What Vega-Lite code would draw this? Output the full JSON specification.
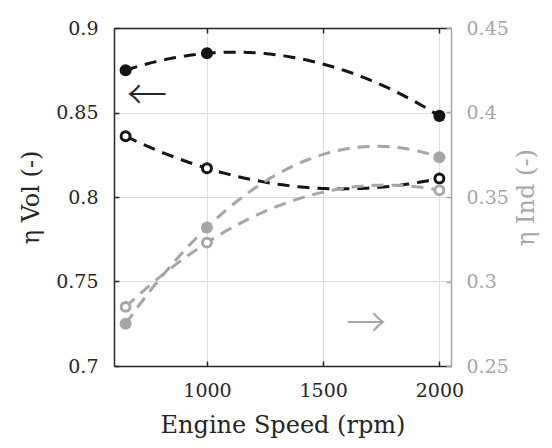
{
  "$schema": "https://vega.github.io/schema/vega-lite/v6.json",
  "width": 337,
  "height": 338,
  "autosize": {"type": "none"},
  "padding": {"left": 114, "top": 28, "right": 101, "bottom": 82},
  "background": "white",
  "config": {
    "font": "DejaVu Serif",
    "view": {"stroke": null},
    "axis": {
      "labelFont": "DejaVu Serif",
      "titleFont": "DejaVu Serif",
      "labelFontSize": 19,
      "titleFontSize": 24,
      "titleFontWeight": "normal",
      "gridColor": "#dddddd",
      "gridWidth": 1,
      "domainWidth": 1.5,
      "tickWidth": 1.5
    }
  },
  "datasets": {
    "vol": [
      {"rpm": 650, "eta": 0.875, "marker": "filled"},
      {"rpm": 1000, "eta": 0.885, "marker": "filled"},
      {"rpm": 2000, "eta": 0.848, "marker": "filled"},
      {"rpm": 650, "eta": 0.836, "marker": "open"},
      {"rpm": 1000, "eta": 0.817, "marker": "open"},
      {"rpm": 2000, "eta": 0.811, "marker": "open"}
    ],
    "ind": [
      {"rpm": 650, "eta": 0.275, "marker": "filled"},
      {"rpm": 1000, "eta": 0.332, "marker": "filled"},
      {"rpm": 2000, "eta": 0.3735, "marker": "filled"},
      {"rpm": 650, "eta": 0.285, "marker": "open"},
      {"rpm": 1000, "eta": 0.323, "marker": "open"},
      {"rpm": 2000, "eta": 0.354, "marker": "open"}
    ]
  },
  "layer": [
    {
      "data": {"name": "vol"},
      "encoding": {
        "x": {
          "field": "rpm", "type": "quantitative",
          "scale": {"domain": [600, 2050], "nice": false, "zero": false},
          "axis": {
            "orient": "bottom", "values": [1000, 1500, 2000], "format": "d",
            "title": "Engine Speed (rpm)", "grid": true,
            "domainColor": "#262626", "tickColor": "#262626", "labelColor": "#262626", "titleColor": "#262626",
            "tickSize": -5, "labelPadding": 20, "titlePadding": 13
          }
        },
        "y": {
          "field": "eta", "type": "quantitative",
          "scale": {"domain": [0.7, 0.9], "nice": false, "zero": false},
          "axis": {
            "orient": "left", "values": [0.7, 0.75, 0.8, 0.85, 0.9], "format": ".2~f",
            "title": "η Vol (-)", "grid": true,
            "domainColor": "#262626", "tickColor": "#262626", "labelColor": "#262626", "titleColor": "#262626",
            "tickSize": -5, "labelPadding": 21, "titlePadding": 12
          }
        }
      },
      "layer": [
        {
          "transform": [{"regression": "eta", "on": "rpm", "groupby": ["marker"], "method": "poly", "order": 2, "extent": [650, 2000]}],
          "mark": {"type": "line", "color": "#141414", "strokeWidth": 3, "strokeDash": [12, 8]},
          "encoding": {"detail": {"field": "marker"}}
        },
        {
          "transform": [{"filter": "datum.marker == 'filled'"}],
          "mark": {"type": "circle", "color": "#141414", "opacity": 1, "size": 145}
        },
        {
          "transform": [{"filter": "datum.marker == 'open'"}],
          "mark": {"type": "circle", "fill": "white", "stroke": "#141414", "strokeWidth": 3, "opacity": 1, "size": 80}
        },
        {
          "data": {"values": [{"rpm": 742, "eta": 0.859, "label": "←"}]},
          "mark": {"type": "text", "fontSize": 40, "color": "#262626", "font": "Noto Sans CJK JP", "fontWeight": 300},
          "encoding": {"text": {"field": "label"}}
        }
      ]
    },
    {
      "data": {"name": "ind"},
      "encoding": {
        "x": {
          "field": "rpm", "type": "quantitative",
          "scale": {"domain": [600, 2050], "nice": false, "zero": false},
          "axis": {
            "orient": "top", "values": [1000, 1500, 2000], "labels": false, "title": null, "grid": false,
            "domainColor": "#262626", "tickColor": "#262626", "tickSize": -5
          }
        },
        "y": {
          "field": "eta", "type": "quantitative",
          "scale": {"domain": [0.25, 0.45], "nice": false, "zero": false},
          "axis": {
            "orient": "right", "values": [0.25, 0.3, 0.35, 0.4, 0.45], "format": ".2~f",
            "title": "η Ind (-)", "titleAngle": 270, "titleBaseline": "top", "grid": false,
            "domainColor": "#a6a6a6", "tickColor": "#a6a6a6", "labelColor": "#a6a6a6", "titleColor": "#a6a6a6",
            "tickSize": -5, "labelPadding": 20, "titlePadding": 6
          }
        }
      },
      "layer": [
        {
          "transform": [{"regression": "eta", "on": "rpm", "groupby": ["marker"], "method": "poly", "order": 2, "extent": [650, 2000]}],
          "mark": {"type": "line", "color": "#a6a6a6", "strokeWidth": 3, "strokeDash": [12, 8]},
          "encoding": {"detail": {"field": "marker"}}
        },
        {
          "transform": [{"filter": "datum.marker == 'filled'"}],
          "mark": {"type": "circle", "color": "#a6a6a6", "opacity": 1, "size": 145}
        },
        {
          "transform": [{"filter": "datum.marker == 'open'"}],
          "mark": {"type": "circle", "fill": "white", "stroke": "#a6a6a6", "strokeWidth": 3, "opacity": 1, "size": 80}
        },
        {
          "data": {"values": [{"rpm": 1684, "eta": 0.274, "label": "→"}]},
          "mark": {"type": "text", "fontSize": 40, "color": "#a6a6a6", "font": "Noto Sans CJK JP", "fontWeight": 300},
          "encoding": {"text": {"field": "label"}}
        }
      ]
    }
  ],
  "resolve": {"scale": {"y": "independent"}, "axis": {"x": "independent"}}
}
